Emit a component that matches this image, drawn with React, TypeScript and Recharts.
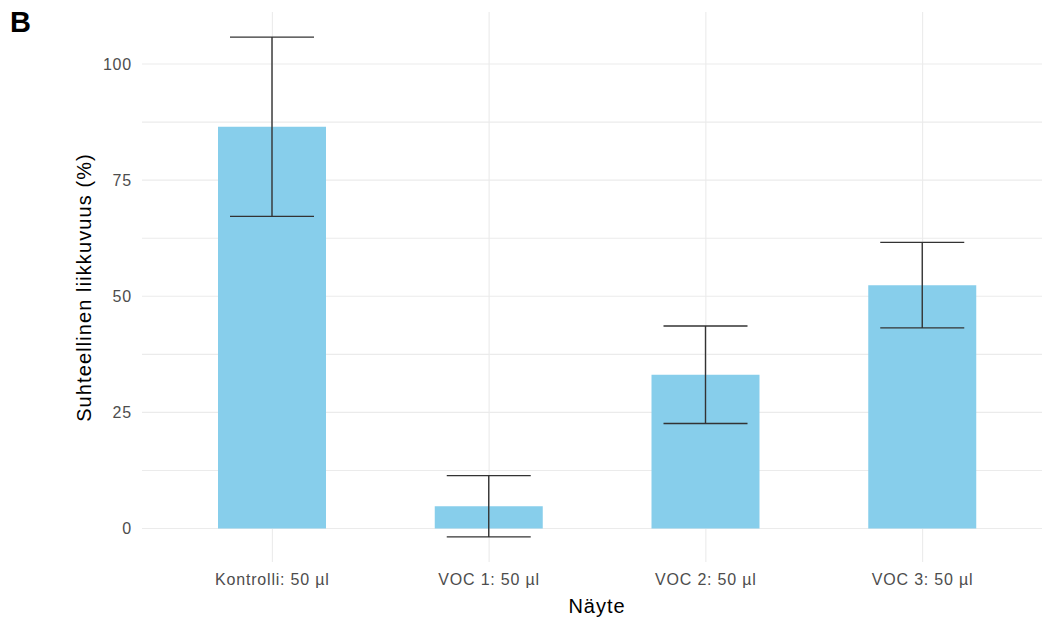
import React from 'react';
import { BarChart, Bar, XAxis, YAxis, CartesianGrid, ErrorBar, Label } from 'recharts';

// Sample groups, mean relative motility (%) and error half-widths
const samples = ['Kontrolli: 50 µl', 'VOC 1: 50 µl', 'VOC 2: 50 µl', 'VOC 3: 50 µl'];
const means = [86.5, 4.8, 33.1, 52.4];
const errors = [19.3, 6.6, 10.5, 9.2];

// Major ticks are labelled, minor ones only draw a grid line
const yTicks = [0, 12.5, 25, 37.5, 50, 62.5, 75, 87.5, 100];
const yMajor = [0, 25, 50, 75, 100];

const data = samples.map((name, i) => ({ name, mean: means[i], err: errors[i] }));

const FONT = '"Liberation Sans", Arial, sans-serif';

export default function App() {
  return (
    <div
      style={{
        position: 'absolute',
        left: 0,
        top: 0,
        width: 1042,
        height: 620,
        background: '#ffffff',
        fontFamily: FONT,
      }}
    >
      <BarChart
        width={1042}
        height={620}
        data={data}
        margin={{ top: 12, right: 0, bottom: 0, left: 0 }}
        barCategoryGap={0}
      >
        {/* grid only at tick positions, no panel border */}
        <CartesianGrid stroke="#EBEBEB" strokeWidth={1.1} syncWithTicks />
        <XAxis
          dataKey="name"
          height={58}
          padding={{ left: 22, right: 11 }}
          axisLine={false}
          tickLine={false}
          tickSize={4}
          tickMargin={8}
          tick={{ fill: '#4D4D4D', fontSize: 16, fontFamily: FONT, letterSpacing: 0.8 }}
        >
          <Label
            content={() => (
              <text
                x={597}
                y={613}
                textAnchor="middle"
                fill="#000000"
                fontSize={20}
                fontFamily={FONT}
                letterSpacing={1}
              >
                Näyte
              </text>
            )}
          />
        </XAxis>
        <YAxis
          type="number"
          width={142}
          domain={[-7.2, 111.2]}
          ticks={yTicks}
          interval={0}
          tickFormatter={(v: number) => (yMajor.includes(v) ? String(v) : '')}
          axisLine={false}
          tickLine={false}
          tickSize={4}
          tickMargin={6}
          tick={{ fill: '#4D4D4D', fontSize: 16, fontFamily: FONT, letterSpacing: 0.8 }}
        >
          <Label
            content={() => (
              <text
                x={91}
                y={287.5}
                transform="rotate(-90 91 287.5)"
                textAnchor="middle"
                fill="#000000"
                fontSize={20}
                fontFamily={FONT}
                letterSpacing={1.1}
              >
                Suhteellinen liikkuvuus (%)
              </text>
            )}
          />
        </YAxis>
        <Bar dataKey="mean" fill="#87CEEB" barSize={108} isAnimationActive={false}>
          <ErrorBar
            dataKey="err"
            direction="y"
            width={42}
            stroke="#333333"
            strokeWidth={1.4}
            isAnimationActive={false}
          />
        </Bar>
      </BarChart>
      <div
        style={{
          position: 'absolute',
          left: 10,
          top: 8,
          fontSize: 29,
          lineHeight: '29px',
          fontWeight: 700,
          color: '#000000',
          fontFamily: FONT,
        }}
      >
        B
      </div>
    </div>
  );
}
